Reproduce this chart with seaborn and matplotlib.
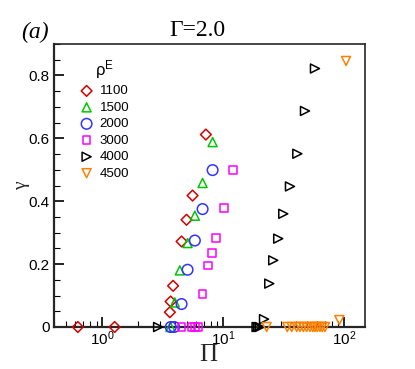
import matplotlib
matplotlib.use("Agg")
import matplotlib.pyplot as plt
import seaborn as sns
import pandas as pd

# Pi / gamma values for each rho^E
pi_1100 = [0.63, 1.27, 3.64, 3.69, 3.87, 4.55, 5.0, 5.61, 7.23]
gam_1100 = [0, 0, 0.047, 0.081, 0.131, 0.272, 0.341, 0.418, 0.612]

pi_1500 = [3.68, 4.00, 4.40, 5.10, 5.86, 6.79, 8.22]
gam_1500 = [0, 0.078, 0.180, 0.267, 0.354, 0.458, 0.588]

pi_2000 = [3.70, 3.95, 4.55, 5.10, 5.86, 6.79, 8.22]
gam_2000 = [0, 0, 0.073, 0.182, 0.275, 0.375, 0.499]

pi_3000 = [4.55, 5.50, 5.86, 6.24, 6.79, 7.55, 8.15, 8.75, 10.2, 12.17]
gam_3000 = [0, 0, 0, 0, 0.105, 0.196, 0.236, 0.283, 0.379, 0.499]

pi_4000 = [2.91, 19.0, 19.6, 20.2, 21.9, 24.2, 26.1, 28.7, 31.6, 35.9, 41.3, 47.8, 57.8]
gam_4000 = [0, 0, 0, 0, 0.025, 0.138, 0.212, 0.281, 0.360, 0.447, 0.551, 0.687, 0.822]

pi_4500 = [23.0, 34.1, 37.1, 40.8, 43.5, 46.3, 49.3, 52.6, 55.4, 57.8, 60.4, 63.6,
           66.5, 70.0, 92.0, 104.5]
gam_4500 = [0, 0, 0, 0, 0, 0, 0, 0, 0, 0, 0, 0, 0, 0, 0.022, 0.846]

groups = [
    ("1100", pi_1100, gam_1100, "D", "#d40000", 30),
    ("1500", pi_1500, gam_1500, "^", "#00c800", 42),
    ("2000", pi_2000, gam_2000, "o", "#3333ff", 58),
    ("3000", pi_3000, gam_3000, "s", "#ff00ff", 30),
    ("4000", pi_4000, gam_4000, ">", "black", 42),
    ("4500", pi_4500, gam_4500, "v", "#ff8000", 42),
]

sns.set_style("ticks")
plt.rcParams["font.family"] = ["Liberation Sans", "DejaVu Sans"]
plt.rcParams["mathtext.fontset"] = "custom"
plt.rcParams["mathtext.rm"] = "Liberation Sans"
plt.rcParams["mathtext.it"] = "Liberation Sans"
plt.rcParams["text.color"] = "black"
plt.rcParams["xtick.color"] = "black"
plt.rcParams["ytick.color"] = "black"

fig = plt.figure(figsize=(4.15, 3.69), dpi=100)
ax = fig.add_axes([54 / 415, 1 - 327 / 369, 311 / 415, 283 / 369])

for name, px, gy, mk, col, sz in groups:
    df = pd.DataFrame({"Pi": px, "gamma": gy})
    sns.scatterplot(data=df, x="Pi", y="gamma", marker=mk, s=sz, color=col,
                    facecolors="none", edgecolors=col, linewidths=1.1,
                    clip_on=False, zorder=3, label=name, ax=ax)

ax.set_xscale("log")
ax.set_xlim(0.4, 150)
ax.set_ylim(0, 0.9)
ax.set_yticks([0, 0.2, 0.4, 0.6, 0.8])
ax.set_yticklabels(["0", "0.2", "0.4", "0.6", "0.8"])
ax.yaxis.set_minor_locator(matplotlib.ticker.MultipleLocator(0.05))
ax.xaxis.set_minor_locator(matplotlib.ticker.LogLocator(base=10, subs=range(2, 10)))
ax.tick_params(which="both", direction="in", top=False, right=False,
               labelsize=11, colors="black")
ax.tick_params(axis="x", which="both", pad=2)
ax.tick_params(axis="y", which="both", pad=3)
ax.tick_params(which="major", length=7, width=1.2)
ax.tick_params(which="minor", length=4, width=0.8)
for side in ["left", "bottom"]:
    ax.spines[side].set_linewidth(1.6)
for side in ["top", "right"]:
    ax.spines[side].set_linewidth(1.2)

ax.set_xlabel("Π", family="Liberation Serif", fontsize=18, labelpad=0)
ax.xaxis.set_label_coords(154 / 311, -0.06)
ax.xaxis.label.set_va("top")
ax.set_ylabel("γ", family="Liberation Serif", fontsize=14, labelpad=-1)

leg = ax.legend(title=r"ρ$^{\rm E}$", loc="upper left",
                bbox_to_anchor=(26 / 311, 1 - 14 / 283), frameon=False,
                fontsize=9.5, title_fontsize=12, handlelength=1.0,
                handletextpad=0.5, labelspacing=0.32, borderpad=0,
                borderaxespad=0)

fig.text(197 / 415, 1 - 30 / 369, "Γ=2.0", family="Liberation Serif",
         fontsize=17, ha="center", va="center")
fig.text(35 / 415, 1 - 32 / 369, "(a)", family="Liberation Serif",
         style="italic", fontsize=17, ha="center", va="center")

fig.savefig("out.png", dpi=100)
